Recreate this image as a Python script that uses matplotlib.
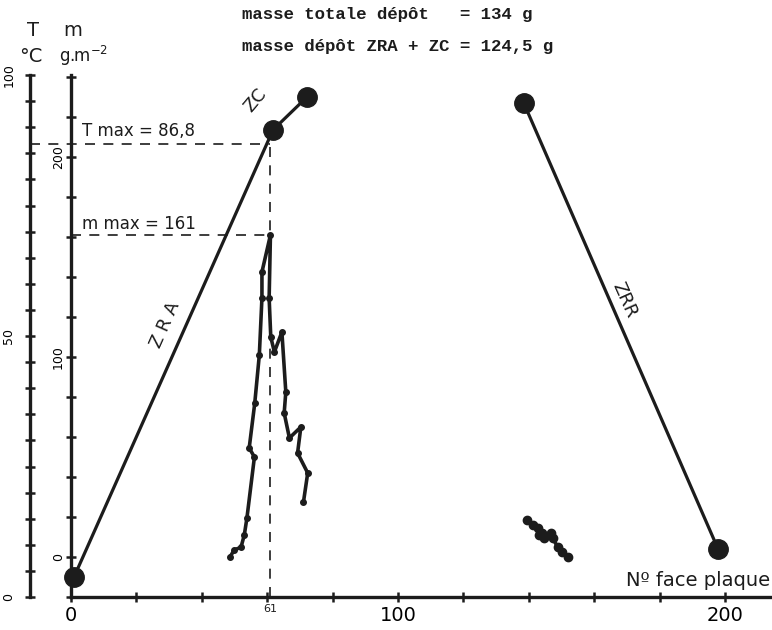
import numpy as np
import matplotlib
matplotlib.use("Agg")
import matplotlib.pyplot as plt

# temperature profile (big dots), x = face number, T in °C
t_x = [0.9, 61.8, 72.2, 138.5, 197.9]
t_val = [3.8, 89.5, 95.8, 94.6, 9.2]
t_segments = [(0, 3), (3, 5)]  # ZRA + ZC joined, then ZRR

# deposit mass, first bump (g.m-2)
m_x = [48.7, 49.9, 52.0, 53.0, 53.8, 56.1, 54.5, 56.2, 57.6, 58.4, 58.4, 61.0,
       60.6, 61.1, 62.2, 64.5, 65.7, 65.2, 66.8, 70.3, 69.3, 72.4, 71.1]
m_val = [0.2, 3.5, 4.9, 11, 19.4, 50, 54.5, 76.9, 101, 129.5, 142.5, 161,
         129.5, 110, 102.5, 112.5, 82.5, 72, 59.5, 65, 52, 42, 27.5]

# deposit mass, second small bump
m2_x = [139.6, 141.2, 142.7, 143.2, 144.2, 144.7, 146.8, 147.3, 148.8, 150.3, 151.9]
m2_val = [18.5, 16, 14.3, 11, 11.9, 9.4, 11.9, 9.4, 5.2, 2.7, 0.2]

t_max = 86.8
m_max = 161
x_max_face = 61

ink = "#1c1c1c"

fig = plt.figure(figsize=(7.72, 6.30), dpi=100)
ax = fig.add_axes([71 / 772, 33 / 630, 1 - 71 / 772, 522 / 630])
ax.set_xlim(0, 214.4)
ax.set_ylim(-20, 241)
ax.patch.set_alpha(0)

axT = ax.twinx()
axT.set_ylim(0, 100)
axT.patch.set_alpha(0)

for a in (ax, axT):
    a.spines["top"].set_visible(False)
    a.spines["right"].set_visible(False)
axT.spines["bottom"].set_visible(False)
axT.yaxis.tick_left()
axT.spines["left"].set_visible(True)
axT.spines["left"].set_position(("outward", 41 * 0.72))
for sp in ("left", "bottom"):
    ax.spines[sp].set_linewidth(2.4)
    ax.spines[sp].set_color(ink)
axT.spines["left"].set_linewidth(2.4)
axT.spines["left"].set_color(ink)

# ticks
ax.set_xticks([0, 100, 200])
ax.set_xticks(np.arange(0, 201, 20), minor=True)
ax.set_yticks([0, 100, 200])
ax.set_yticks(np.arange(-20, 241, 20), minor=True)
axT.set_yticks([0, 50, 100])
axT.set_yticks(np.arange(0, 101, 5), minor=True)

ax.tick_params(axis="x", which="both", direction="inout", length=7, width=1.8,
               color=ink, labelsize=14, pad=3)
ax.tick_params(axis="y", which="both", direction="inout", length=7, width=1.8,
               color=ink, labelsize=9, labelrotation=90, pad=1)
axT.tick_params(axis="y", which="both", direction="inout", length=7, width=1.8,
                color=ink, labelsize=9, labelrotation=90, pad=7,
                left=True, right=False, labelleft=True, labelright=False)
for lab in ax.get_yticklabels() + axT.get_yticklabels():
    lab.set_va("center")

# temperature profile
for i0, i1 in t_segments:
    axT.plot(t_x[i0:i1], t_val[i0:i1], color=ink, lw=2.3, marker="o",
             markersize=14, clip_on=False, zorder=4)

# mass profiles
ax.plot(m_x, m_val, color=ink, lw=2.6, marker="o", markersize=4, zorder=5)
ax.plot(m2_x, m2_val, color=ink, lw=2.6, marker="o", markersize=6, zorder=5)

# maxima guide lines
dash = dict(color=ink, lw=1.2, dashes=(6, 5))
axT.plot([-12.6, x_max_face], [t_max, t_max], clip_on=False, **dash)
ax.plot([0, x_max_face], [m_max, m_max], **dash)
axT.plot([x_max_face, x_max_face], [0, t_max], **dash)

axT.text(3.4, 89.3, "T max = 86,8", fontsize=12, ha="left", va="center", color=ink)
ax.text(3.4, 166.5, "m max = 161", fontsize=12, ha="left", va="center", color=ink)
ax.text(x_max_face, -23.5, "61", fontsize=8, ha="center", va="top", color=ink)

# zone labels
axT.text(28.7, 52.1, "Z R A", fontsize=13, rotation=66, rotation_mode="anchor",
         ha="center", va="center", color=ink)
axT.text(56.4, 95.2, "ZC", fontsize=13, rotation=50, rotation_mode="anchor",
         ha="center", va="center", color=ink)
axT.text(169.4, 56.9, "ZRR", fontsize=13, rotation=-66, rotation_mode="anchor",
         ha="center", va="center", color=ink)

# axis titles
fig.text(33 / 772, 1 - 31 / 630, "T", fontsize=14, ha="center", va="center", color=ink)
fig.text(31 / 772, 1 - 56 / 630, "°C", fontsize=14, ha="center", va="center", color=ink)
fig.text(73 / 772, 1 - 31 / 630, "m", fontsize=14, ha="center", va="center", color=ink)
fig.text(84 / 772, 1 - 56 / 630, r"g.m$^{-2}$", fontsize=12, ha="center", va="center",
         color=ink)
fig.text(770 / 772, 1 - 580 / 630, "Nº face plaque", fontsize=14, ha="right",
         va="center", color=ink)

# header
mono = dict(family="Liberation Mono", fontsize=12.5, fontweight="bold", color=ink,
            ha="left", va="center")
fig.text(242 / 772, 1 - 15 / 630, "masse totale dépôt   = 134 g", **mono)
fig.text(242 / 772, 1 - 47 / 630, "masse dépôt ZRA + ZC = 124,5 g", **mono)

fig.savefig("out.png", dpi=100)
